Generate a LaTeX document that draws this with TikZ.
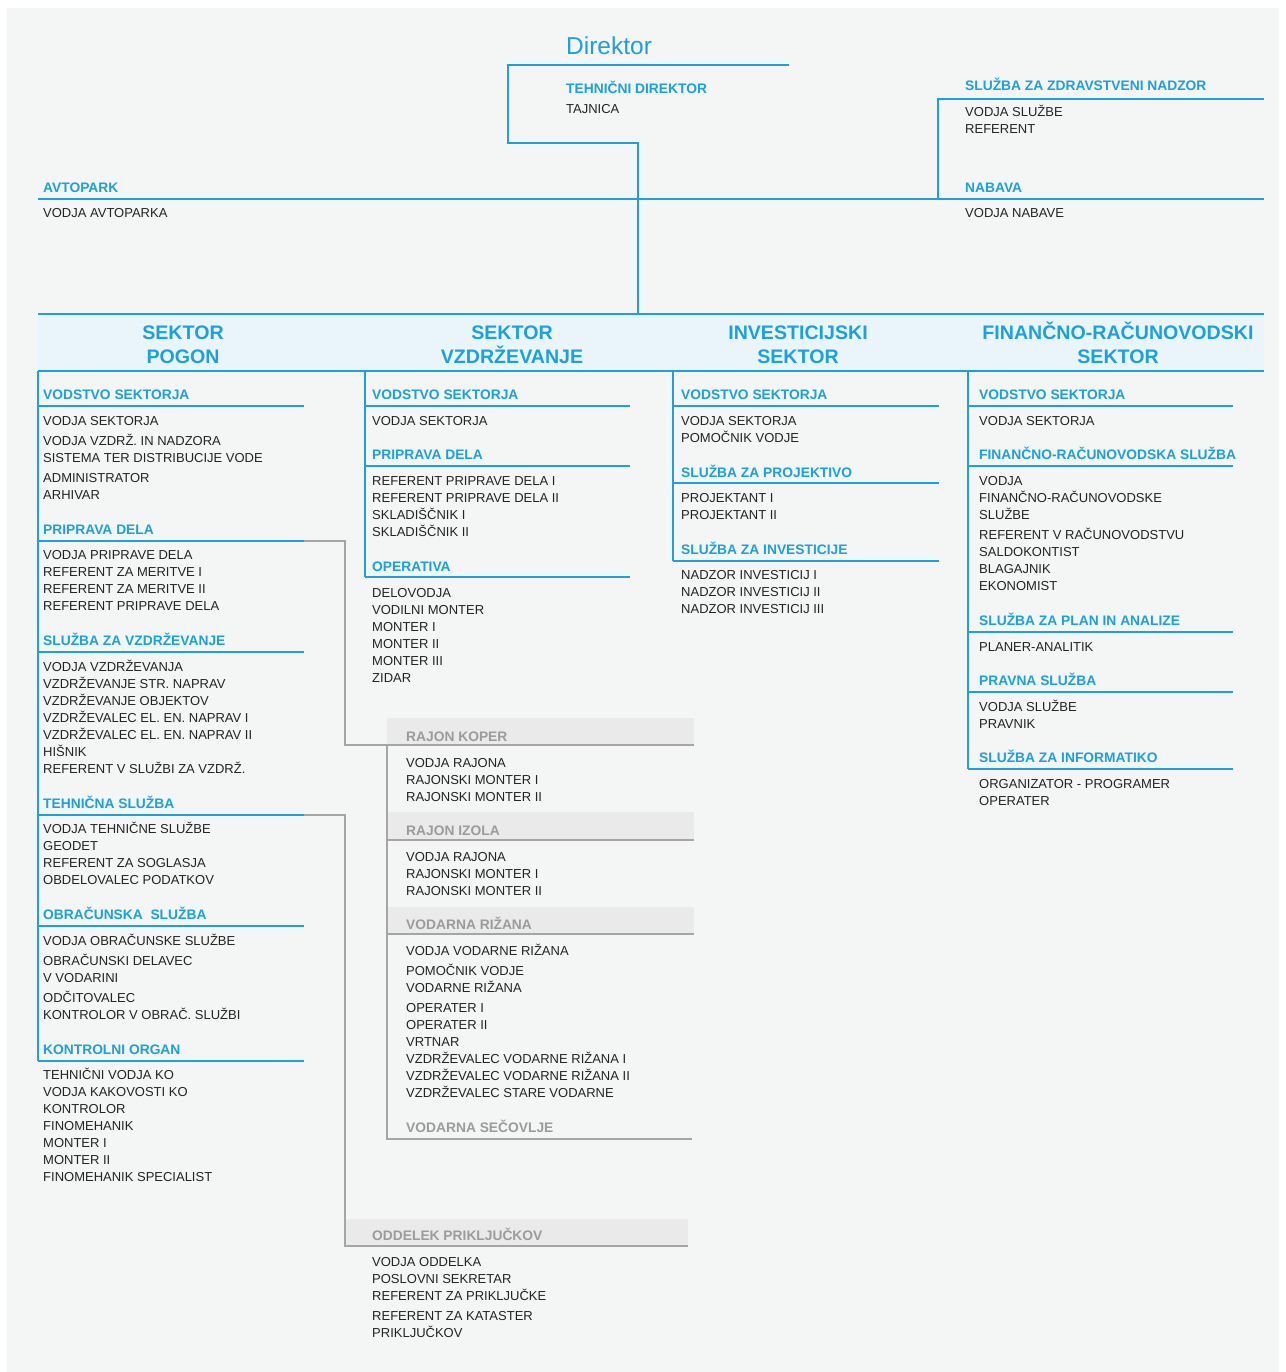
\documentclass[tikz,border=0pt]{standalone}
\usepackage{fontspec}
\setmainfont{Liberation Sans}

\definecolor{paper}{RGB}{244,245,245}
\definecolor{orgblue}{RGB}{27,161,224}
\definecolor{bandblue}{RGB}{234,245,251}
\definecolor{bandgray}{RGB}{234,234,234}
\definecolor{ink}{RGB}{35,35,35}
\definecolor{graytext}{RGB}{155,155,155}
\definecolor{grayrule}{RGB}{165,165,165}

\newcommand\bodyfont{\fontsize{13}{17}\selectfont}
\newcommand\headfont{\fontsize{13.8}{17}\selectfont\bfseries}
\newcommand\sectorfont{\fontsize{19.6}{24}\selectfont\bfseries}
\newcommand\dirfont{\fontsize{24.5}{28}\selectfont}

% multi-line nodes sit on the baseline of their last line
\tikzstyle{item} = [%
					anchor = base west,
					inner sep = 0,
					align = left,
					font = \bodyfont,
					text = ink]
\tikzstyle{head} = [%
					anchor = base west,
					inner sep = 0,
					font = \headfont,
					text = orgblue]
\tikzstyle{grayhead} = [%
					anchor = base west,
					inner sep = 0,
					font = \headfont,
					text = graytext]
\tikzstyle{sector} = [%
					anchor = base,
					inner sep = 0,
					align = center,
					font = \sectorfont,
					text = orgblue]
\tikzstyle{blueline} = [%
					line width = 1.5,
					color = orgblue]
\tikzstyle{grayline} = [%
					line width = 1.5,
					color = grayrule]

\begin{document}
\begin{tikzpicture}[x=1pt, y=-1pt]
		
		% Canvas
		\useasboundingbox (0,0) rectangle (1285,1372);
		\fill[white] (0,0) rectangle (1285,1372);
		\fill[paper] (7,8) rectangle (1279,1372);
		
		% Coordinates
		\coordinate (dirA) at (789,65);
		\coordinate (dirB) at (508,65);
		\coordinate (dirC) at (508,143);
		\coordinate (dirD) at (638,143);
		\coordinate (dirE) at (638,313);
		\coordinate (zdrA) at (1264,99);
		\coordinate (zdrB) at (938,99);
		\coordinate (zdrC) at (938,199);
		\coordinate (avtA) at (38,199);
		\coordinate (avtB) at (1264,199);
		\coordinate (prA) at (304,541);
		\coordinate (prB) at (345,541);
		\coordinate (prC) at (345,745);
		\coordinate (prD) at (694,745);
		\coordinate (rjA) at (387,745);
		\coordinate (rjB) at (387,1139);
		\coordinate (tsA) at (304,815);
		\coordinate (tsB) at (345,815);
		\coordinate (tsC) at (345,1246);
		\coordinate (tsD) at (688,1246);
		
		% Bands
		\fill[bandblue] (38,314) rectangle (1264,371);
		\fill[bandgray] (387,718) rectangle (694,745);
		\fill[bandgray] (387,812) rectangle (694,840);
		\fill[bandgray] (387,907) rectangle (694,934);
		\fill[bandgray] (345,1219) rectangle (688,1246);
		
		% Lines
		%% Top
		\draw[blueline] (dirA) -- (dirB) -- (dirC) -- (dirD) -- (dirE);
		\draw[blueline] (zdrA) -- (zdrB) -- (zdrC);
		\draw[blueline] (avtA) -- (avtB);
		\draw[blueline] (38,314) -- (1264,314);
		\draw[blueline] (38,371) -- (1264,371);
		%% Sectors
		\draw[blueline] (38,371) -- (38,1061);
		\foreach \y in {406,541,652,815,926,1061}
			\draw[blueline] (38,\y) -- (304,\y);
		\draw[blueline] (365,371) -- (365,577);
		\foreach \y in {406,466,577}
			\draw[blueline] (365,\y) -- (630,\y);
		\draw[blueline] (673,371) -- (673,561);
		\foreach \y in {406,483,561}
			\draw[blueline] (673,\y) -- (939,\y);
		\draw[blueline] (968,371) -- (968,769);
		\foreach \y in {406,466,632,692,769}
			\draw[blueline] (968,\y) -- (1233,\y);
		%% Branches
		\draw[grayline] (prA) -- (prB) -- (prC) -- (prD);
		\draw[grayline] (rjA) -- (rjB) -- (692,1139);
		\draw[grayline] (387,840) -- (694,840);
		\draw[grayline] (387,934) -- (694,934);
		\draw[grayline] (tsA) -- (tsB) -- (tsC) -- (tsD);
		
		% Nodes
		%% Top
		\node[anchor=base west, inner sep=0, font=\dirfont, text=orgblue] (dir) at (566,55) {Direktor};
		\node[head] (tdir) at (566,94) {TEHNIČNI DIREKTOR};
		\node[item] (tdir-i) at (566,114) {TAJNICA};
		\node[head] (avt) at (43,193) {AVTOPARK};
		\node[item] (avt-i) at (43,218) {VODJA AVTOPARKA};
		\node[head] (zdr) at (965,91) {SLUŽBA ZA ZDRAVSTVENI NADZOR};
		\node[item] (zdr-i) at (965,134) {VODJA SLUŽBE\\ REFERENT};
		\node[head] (nab) at (965,193) {NABAVA};
		\node[item] (nab-i) at (965,218) {VODJA NABAVE};
		
		%% Sector titles
		\node[sector] (pogon) at (183,363) {SEKTOR\\ POGON};
		\node[sector] (vzdr) at (512,363) {SEKTOR\\ VZDRŽEVANJE};
		\node[sector] (inv) at (798,363) {INVESTICIJSKI\\ SEKTOR};
		\node[sector] (fin) at (1118,363) {FINANČNO-RAČUNOVODSKI\\ SEKTOR};
		
		%% Sektor pogon
		\node[head] (p-vod) at (43,399) {VODSTVO SEKTORJA};
		\node[item] (p-vod-i) at (43,499) {VODJA SEKTORJA\\[3pt] VODJA VZDRŽ. IN NADZORA\\ SISTEMA TER DISTRIBUCIJE VODE\\[3pt] ADMINISTRATOR\\ ARHIVAR};
		\node[head] (p-pri) at (43,534) {PRIPRAVA DELA};
		\node[item] (p-pri-i) at (43,610) {VODJA PRIPRAVE DELA\\ REFERENT ZA MERITVE I\\ REFERENT ZA MERITVE II\\ REFERENT PRIPRAVE DELA};
		\node[head] (p-vzd) at (43,645) {SLUŽBA ZA VZDRŽEVANJE};
		\node[item] (p-vzd-i) at (43,773) {VODJA VZDRŽEVANJA\\ VZDRŽEVANJE STR. NAPRAV\\ VZDRŽEVANJE OBJEKTOV\\ VZDRŽEVALEC EL. EN. NAPRAV I\\ VZDRŽEVALEC EL. EN. NAPRAV II\\ HIŠNIK\\ REFERENT V SLUŽBI ZA VZDRŽ.};
		\node[head] (p-teh) at (43,808) {TEHNIČNA SLUŽBA};
		\node[item] (p-teh-i) at (43,884) {VODJA TEHNIČNE SLUŽBE\\ GEODET\\ REFERENT ZA SOGLASJA\\ OBDELOVALEC PODATKOV};
		\node[head] (p-obr) at (43,919) {OBRAČUNSKA\ \ SLUŽBA};
		\node[item] (p-obr-i) at (43,1019) {VODJA OBRAČUNSKE SLUŽBE\\[3pt] OBRAČUNSKI DELAVEC\\ V VODARINI\\[3pt] ODČITOVALEC\\ KONTROLOR V OBRAČ. SLUŽBI};
		\node[head] (p-kon) at (43,1054) {KONTROLNI ORGAN};
		\node[item] (p-kon-i) at (43,1181) {TEHNIČNI VODJA KO\\ VODJA KAKOVOSTI KO\\ KONTROLOR\\ FINOMEHANIK\\ MONTER I\\ MONTER II\\ FINOMEHANIK SPECIALIST};
		
		%% Sektor vzdrzevanje
		\node[head] (v-vod) at (372,399) {VODSTVO SEKTORJA};
		\node[item] (v-vod-i) at (372,425) {VODJA SEKTORJA};
		\node[head] (v-pri) at (372,459) {PRIPRAVA DELA};
		\node[item] (v-pri-i) at (372,536) {REFERENT PRIPRAVE DELA I\\ REFERENT PRIPRAVE DELA II\\ SKLADIŠČNIK I\\ SKLADIŠČNIK II};
		\node[head] (v-ope) at (372,571) {OPERATIVA};
		\node[item] (v-ope-i) at (372,682) {DELOVODJA\\ VODILNI MONTER\\ MONTER I\\ MONTER II\\ MONTER III\\ ZIDAR};
		
		%% Rajoni
		\node[grayhead] (r-kop) at (406,741) {RAJON KOPER};
		\node[item] (r-kop-i) at (406,801) {VODJA RAJONA\\ RAJONSKI MONTER I\\ RAJONSKI MONTER II};
		\node[grayhead] (r-izo) at (406,835) {RAJON IZOLA};
		\node[item] (r-izo-i) at (406,895) {VODJA RAJONA\\ RAJONSKI MONTER I\\ RAJONSKI MONTER II};
		\node[grayhead] (r-riz) at (406,929) {VODARNA RIŽANA};
		\node[item] (r-riz-i) at (406,1097) {VODJA VODARNE RIŽANA\\[3pt] POMOČNIK VODJE\\ VODARNE RIŽANA\\[3pt] OPERATER I\\ OPERATER II\\ VRTNAR\\ VZDRŽEVALEC VODARNE RIŽANA I\\ VZDRŽEVALEC VODARNE RIŽANA II\\ VZDRŽEVALEC STARE VODARNE};
		\node[grayhead] (r-sec) at (406,1132) {VODARNA SEČOVLJE};
		\node[grayhead] (odd) at (372,1240) {ODDELEK PRIKLJUČKOV};
		\node[item] (odd-i) at (372,1337) {VODJA ODDELKA\\ POSLOVNI SEKRETAR\\ REFERENT ZA PRIKLJUČKE\\[3pt] REFERENT ZA KATASTER\\ PRIKLJUČKOV};
		
		%% Investicijski sektor
		\node[head] (i-vod) at (681,399) {VODSTVO SEKTORJA};
		\node[item] (i-vod-i) at (681,442) {VODJA SEKTORJA\\ POMOČNIK VODJE};
		\node[head] (i-pro) at (681,477) {SLUŽBA ZA PROJEKTIVO};
		\node[item] (i-pro-i) at (681,519) {PROJEKTANT I\\ PROJEKTANT II};
		\node[head] (i-inv) at (681,554) {SLUŽBA ZA INVESTICIJE};
		\node[item] (i-inv-i) at (681,613) {NADZOR INVESTICIJ I\\ NADZOR INVESTICIJ II\\ NADZOR INVESTICIJ III};
		
		%% Financno-racunovodski sektor
		\node[head] (f-vod) at (979,399) {VODSTVO SEKTORJA};
		\node[item] (f-vod-i) at (979,425) {VODJA SEKTORJA};
		\node[head] (f-frs) at (979,459) {FINANČNO-RAČUNOVODSKA SLUŽBA};
		\node[item] (f-frs-i) at (979,590) {VODJA\\ FINANČNO-RAČUNOVODSKE\\ SLUŽBE\\[3pt] REFERENT V RAČUNOVODSTVU\\ SALDOKONTIST\\ BLAGAJNIK\\ EKONOMIST};
		\node[head] (f-pla) at (979,625) {SLUŽBA ZA PLAN IN ANALIZE};
		\node[item] (f-pla-i) at (979,651) {PLANER-ANALITIK};
		\node[head] (f-pra) at (979,685) {PRAVNA SLUŽBA};
		\node[item] (f-pra-i) at (979,728) {VODJA SLUŽBE\\ PRAVNIK};
		\node[head] (f-inf) at (979,762) {SLUŽBA ZA INFORMATIKO};
		\node[item] (f-inf-i) at (979,805) {ORGANIZATOR - PROGRAMER\\ OPERATER};
	\end{tikzpicture}
\end{document}
